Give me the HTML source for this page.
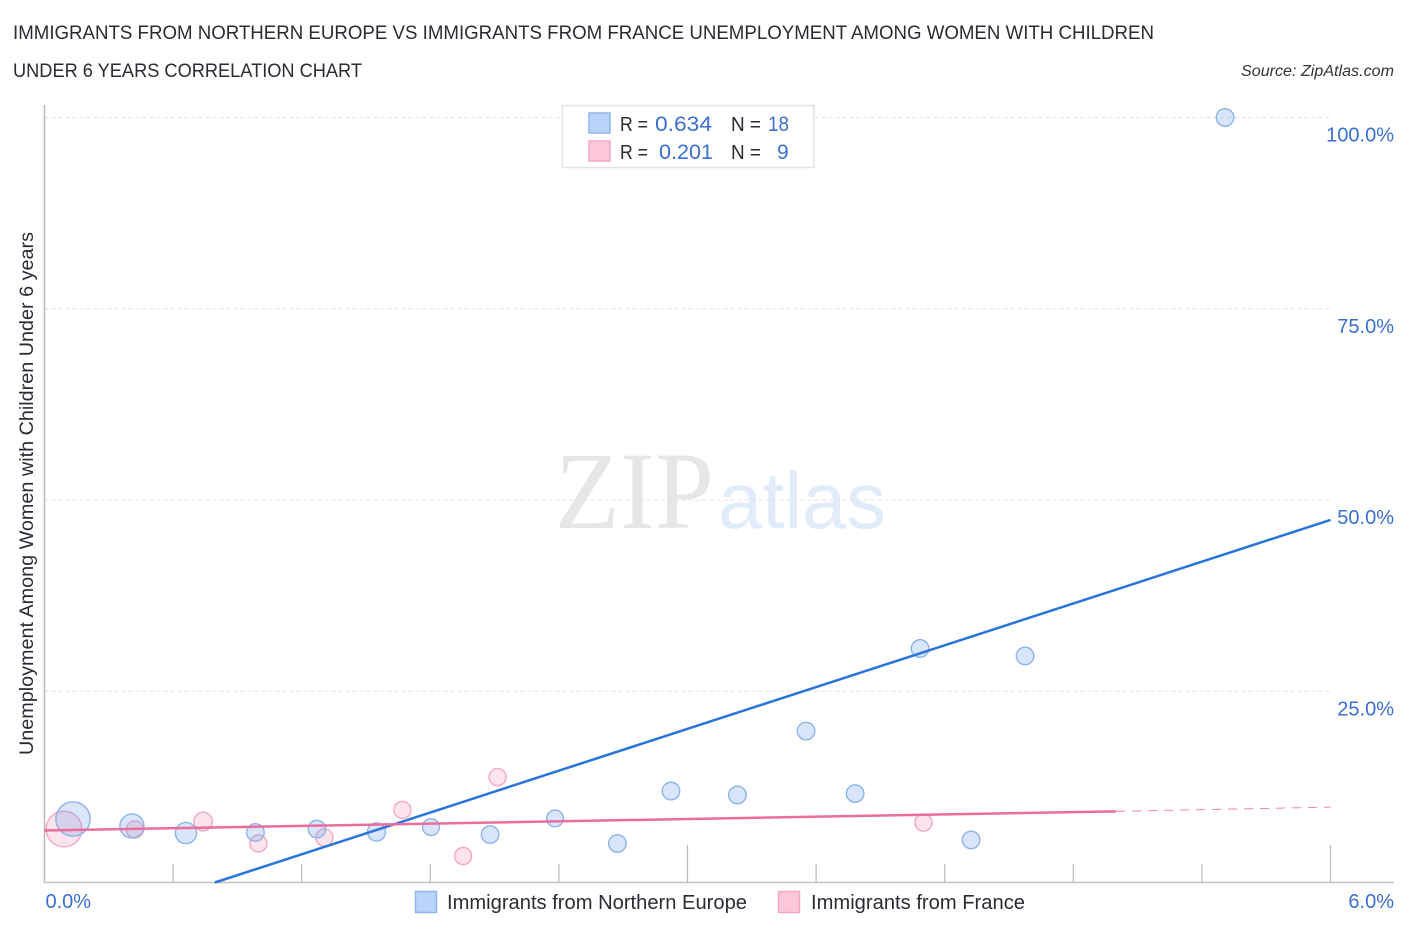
<!DOCTYPE html>
<html lang="en">
<head>
<meta charset="utf-8">
<title>Immigrants from Northern Europe vs Immigrants from France Unemployment Correlation Chart</title>
<style>
html,body{margin:0;padding:0;background:#fff;width:1406px;height:930px;overflow:hidden}
svg{display:block;font-family:"Liberation Sans",sans-serif}
</style>
</head>
<body>
<svg id="chart" width="1406" height="930" viewBox="0 0 1406 930" xmlns="http://www.w3.org/2000/svg">
  <rect x="0" y="0" width="1406" height="930" fill="#ffffff"/>
  <text x="13" y="39" font-size="19.5" fill="#2b2b33" textLength="1141" lengthAdjust="spacingAndGlyphs">IMMIGRANTS FROM NORTHERN EUROPE VS IMMIGRANTS FROM FRANCE UNEMPLOYMENT AMONG WOMEN WITH CHILDREN</text>
  <text x="13" y="77" font-size="19.5" fill="#2b2b33" textLength="349" lengthAdjust="spacingAndGlyphs">UNDER 6 YEARS CORRELATION CHART</text>
  <text x="1241" y="76" font-size="15.5" font-style="italic" fill="#33333b" textLength="153" lengthAdjust="spacingAndGlyphs">Source: ZipAtlas.com</text>

  <g>
    <text x="555" y="528" font-family="'Liberation Serif',serif" font-size="110" fill="#e6e6e6" textLength="159" lengthAdjust="spacingAndGlyphs">ZIP</text>
    <text x="718" y="528" font-size="80" fill="#e1ebf9" textLength="168" lengthAdjust="spacingAndGlyphs">atlas</text>
  </g>

  <g id="grid"></g>
  <g id="axes"></g>
  <g id="y-tick-labels"></g>
  <g id="x-tick-labels"></g>
  <g id="points-france"></g>
  <g id="points-europe"></g>
  <g id="trends"></g>

  <text transform="translate(33,755) rotate(-90)" font-size="19" fill="#2b2b33" textLength="523" lengthAdjust="spacingAndGlyphs">Unemployment Among Women with Children Under 6 years</text>

  <g>
    <rect x="562.5" y="105.5" width="251.5" height="62" fill="#ffffff" stroke="#e2e2e2" stroke-width="1.5"/>
    <rect x="589" y="113" width="21" height="20" fill="#b9d4f8" stroke="#8fb6ea" stroke-width="1.5"/>
    <rect x="589" y="141" width="21" height="20" fill="#fcc8d8" stroke="#f2a9c0" stroke-width="1.5"/>
    <text x="620" y="131" font-size="20" fill="#2b2b33" textLength="28" lengthAdjust="spacingAndGlyphs">R =</text>
    <text x="655" y="131" font-size="21" fill="#3b6fd0" textLength="57" lengthAdjust="spacingAndGlyphs">0.634</text>
    <text x="731" y="131" font-size="20" fill="#2b2b33" textLength="30" lengthAdjust="spacingAndGlyphs">N =</text>
    <text x="768" y="131" font-size="21" fill="#3b6fd0" textLength="21" lengthAdjust="spacingAndGlyphs">18</text>
    <text x="620" y="159" font-size="20" fill="#2b2b33" textLength="28" lengthAdjust="spacingAndGlyphs">R =</text>
    <text x="659" y="159" font-size="21" fill="#3b6fd0" textLength="54" lengthAdjust="spacingAndGlyphs">0.201</text>
    <text x="731" y="159" font-size="20" fill="#2b2b33" textLength="30" lengthAdjust="spacingAndGlyphs">N =</text>
    <text x="777" y="159" font-size="21" fill="#3b6fd0">9</text>
  </g>

  <g>
    <rect x="415.5" y="891.5" width="21" height="21" fill="#b9d4f8" stroke="#8fb6ea" stroke-width="1.5"/>
    <text x="447" y="909" font-size="20" fill="#2b2b33" textLength="300" lengthAdjust="spacingAndGlyphs">Immigrants from Northern Europe</text>
    <rect x="778.5" y="891.5" width="21" height="21" fill="#fcc8d8" stroke="#f2a9c0" stroke-width="1.5"/>
    <text x="811" y="909" font-size="20" fill="#2b2b33" textLength="214" lengthAdjust="spacingAndGlyphs">Immigrants from France</text>
  </g>
</svg>
<script>
const europeX = [0.133,0.408,0.660,0.984,1.271,1.549,1.803,2.079,2.382,2.673,2.923,3.233,3.553,3.782,4.085,4.575,4.323,5.508];
const europeY = [8.30,7.39,6.47,6.54,6.99,6.60,7.25,6.27,8.37,5.10,11.96,11.44,19.80,11.63,30.59,29.61,5.56,100];
const europeWeight = [4.6,2.25,1.75,1.2,1.2,1.27,1.1,1.2,1.1,1.2,1.2,1.2,1.2,1.2,1.2,1.2,1.2,1.2];
const franceX = [0.091,0.422,0.740,0.998,1.306,1.670,1.953,2.114,4.101];
const franceY = [6.99,6.93,7.97,5.10,5.88,9.48,3.46,13.79,7.84];
const franceWeight = [5,1.15,1.35,1.15,1.15,1.15,1.15,1.15,1.15];
const europeTrendX = [0.795,6];
const europeTrendY = [0,47.4];
const franceTrendX = [0,5];
const franceTrendY = [6.8,9.3];
const franceTrendDashX = [5,6];
const franceTrendDashY = [9.3,9.85];
const yTickValues = [25,50,75,100];
const yTickLabels = ['25.0%','50.0%','75.0%','100.0%'];
const xTickValues = [0.6,1.2,1.8,2.4,3,3.6,4.2,4.8,5.4,6];
const xMajorTicks = [3,6];
const xEndValues = [0,6];
const xEndLabels = ['0.0%','6.0%'];

const NS = 'http://www.w3.org/2000/svg';
const xAxis = function (v) { return 44.5 + v * (1330.5 - 44.5) / 6; };
const yAxis = function (v) { return 882.5 - v * (882.5 - 117.5) / 100; };
const radius = function (w) { return 8 * Math.sqrt(w); };
function make(tag, parentId, attrs) {
  const el = document.createElementNS(NS, tag);
  Object.keys(attrs).forEach(function (k) { el.setAttribute(k, attrs[k]); });
  document.getElementById(parentId).appendChild(el);
  return el;
}

yTickValues.forEach(function (v, i) {
  const g = make('line', 'grid', {x1: 44.5, x2: 1330.5, y1: yAxis(v), y2: yAxis(v), stroke: '#e2e2e2', 'stroke-width': 1, 'stroke-dasharray': '4 3'});
  
  
  const t = make('text', 'y-tick-labels', {x: 1394, y: yAxis(v) + 24, 'text-anchor': 'end', 'font-size': 20, fill: '#3b6fd0'});
  
  
  t.textContent = yTickLabels[i];
});

const yLine = make('line', 'axes', {x1: 44.5, x2: 44.5, y1: 105, y2: 883, stroke: '#b8b8b8', 'stroke-width': 1.5});


const xLine = make('line', 'axes', {x1: 44, x2: 1394, y1: 882.5, y2: 882.5, stroke: '#c4c4c4', 'stroke-width': 1.5});


xTickValues.forEach(function (v) {
  const major = xMajorTicks.indexOf(v) >= 0;
  const tick = make('line', 'axes', {x1: xAxis(v), x2: xAxis(v), y1: major ? 845 : 864, y2: 882.5, stroke: '#b8b8b8', 'stroke-width': 1.2});
  
  
});
xEndValues.forEach(function (v, i) {
  const t = make('text', 'x-tick-labels', {x: i === 0 ? xAxis(v) + 1 : 1394, y: 908, 'text-anchor': i === 0 ? 'start' : 'end', 'font-size': 20, fill: '#3b6fd0'});
  
  
  t.textContent = xEndLabels[i];
});

franceX.forEach(function (v, i) {
  const c = make('circle', 'points-france', {cx: xAxis(v), cy: yAxis(franceY[i]), r: radius(franceWeight[i]), fill: 'rgba(250,170,195,0.33)', stroke: '#f2a9c0', 'stroke-width': 1.4});
  
  
});
europeX.forEach(function (v, i) {
  const c = make('circle', 'points-europe', {cx: xAxis(v), cy: yAxis(europeY[i]), r: radius(europeWeight[i]), fill: 'rgba(110,160,235,0.27)', stroke: '#8db3e8', 'stroke-width': 1.4});
  
  
});

const blueTrend = make('line', 'trends', {x1: xAxis(europeTrendX[0]), y1: yAxis(europeTrendY[0]), x2: xAxis(europeTrendX[1]), y2: yAxis(europeTrendY[1]), stroke: '#2a74dc', 'stroke-width': 2.5});


const pinkTrend = make('line', 'trends', {x1: xAxis(franceTrendX[0]), y1: yAxis(franceTrendY[0]), x2: xAxis(franceTrendX[1]), y2: yAxis(franceTrendY[1]), stroke: '#ec6d9b', 'stroke-width': 2.5});


const pinkDash = make('line', 'trends', {x1: xAxis(franceTrendDashX[0]), y1: yAxis(franceTrendDashY[0]), x2: xAxis(franceTrendDashX[1]), y2: yAxis(franceTrendDashY[1]), stroke: '#ee85aa', 'stroke-width': 1, 'stroke-dasharray': '9 7'});


</script>
</body>
</html>
